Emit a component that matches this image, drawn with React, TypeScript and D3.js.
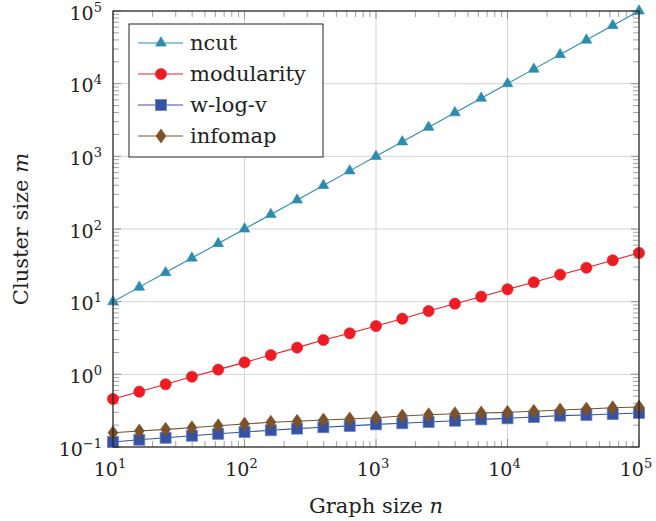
import React from "react";
import * as d3 from "d3";

const graphSizes = [10, 15.85, 25.12, 39.81, 63.1, 100, 158.5, 251.2, 398.1, 631, 1000, 1585, 2512, 3981, 6310, 10000, 15849, 25119, 39811, 63096, 100000];
const ncut = [10, 15.85, 25.12, 39.81, 63.1, 100, 158.5, 251.2, 398.1, 631, 1000, 1585, 2512, 3981, 6310, 10000, 15849, 25119, 39811, 63096, 100000];
const modularity = [0.458, 0.577, 0.73, 0.927, 1.16, 1.46, 1.84, 2.33, 2.97, 3.67, 4.62, 5.83, 7.44, 9.37, 11.7, 14.8, 18.5, 23.5, 29.3, 37.1, 46.8];
const wlogv = [0.117, 0.126, 0.134, 0.143, 0.152, 0.161, 0.17, 0.179, 0.187, 0.195, 0.205, 0.212, 0.221, 0.23, 0.24, 0.248, 0.259, 0.27, 0.276, 0.284, 0.294];
const infomap = [0.157, 0.166, 0.175, 0.184, 0.196, 0.207, 0.219, 0.226, 0.235, 0.243, 0.253, 0.267, 0.278, 0.287, 0.294, 0.3, 0.31, 0.323, 0.333, 0.347, 0.355];

const seriesNames = ["ncut", "modularity", "w-log-v", "infomap"];
const seriesColors = ["#2b8cae", "#ed1c24", "#3652a3", "#7b522a"];
const seriesMarkers = ["triangle", "circle", "square", "diamond"];
const xTickExps = [1, 2, 3, 4, 5];
const yTickExps = [-1, 0, 1, 2, 3, 4, 5];

const FONT = "DejaVu Serif";

function Marker({ type, x, y, color }: { type: string; x: number; y: number; color: string }) {
  if (type === "circle") return <circle cx={x} cy={y} r={5.6} fill={color} stroke={color} strokeWidth={0.6} />;
  if (type === "square") return <rect x={x - 5.5} y={y - 5.5} width={11} height={11} fill={color} stroke="#6d83c0" strokeWidth={0.8} />;
  if (type === "diamond") {
    const p = `M${x},${y - 7}L${x + 5},${y}L${x},${y + 7}L${x - 5},${y}Z`;
    return <path d={p} fill={color} stroke={color} strokeWidth={0.6} />;
  }
  const r = 6.2;
  const p = `M${x},${y - r}L${x + r * 0.866},${y + r * 0.5}L${x - r * 0.866},${y + r * 0.5}Z`;
  return <path d={p} fill={color} stroke={color} strokeWidth={0.6} />;
}

export default function App() {
  const W = 656, H = 521;
  const left = 113, right = 639, top = 11, bottom = 447;
  const x = d3.scaleLog().domain([10, 1e5]).range([left, right]);
  const y = d3.scaleLog().domain([0.1, 1e5]).range([bottom, top]);
  const seriesData = [ncut, modularity, wlogv, infomap];
  const line = d3.line<[number, number]>().x((d) => x(d[0])).y((d) => y(d[1]));

  const minorX: number[] = [];
  for (let e = 1; e < 5; e++) for (let k = 2; k <= 9; k++) minorX.push(k * Math.pow(10, e));
  const minorY: number[] = [];
  for (let e = -1; e < 5; e++) for (let k = 2; k <= 9; k++) minorY.push(k * Math.pow(10, e));

  const tickColor = "#8a8a8a";
  const majorLen = 8, minorLen = 6;

  const legendRows = [43, 74, 105, 136];

  return (
    <svg width={W} height={H} style={{ position: "absolute", left: 0, top: 0, background: "#fff" }} fontFamily={FONT}>
      {/* grid */}
      {xTickExps.map((e) => (
        <line key={"gx" + e} x1={x(Math.pow(10, e))} x2={x(Math.pow(10, e))} y1={top} y2={bottom} stroke="#d4d4d4" strokeWidth={1} />
      ))}
      {yTickExps.map((e) => (
        <line key={"gy" + e} x1={left} x2={right} y1={y(Math.pow(10, e))} y2={y(Math.pow(10, e))} stroke="#d4d4d4" strokeWidth={1} />
      ))}
      {/* minor ticks */}
      {minorX.map((v, i) => (
        <g key={"mx" + i} stroke={tickColor} strokeWidth={0.8}>
          <line x1={x(v)} x2={x(v)} y1={bottom} y2={bottom - minorLen} />
          <line x1={x(v)} x2={x(v)} y1={top} y2={top + minorLen} />
        </g>
      ))}
      {minorY.map((v, i) => (
        <g key={"my" + i} stroke={tickColor} strokeWidth={0.8}>
          <line x1={left} x2={left + minorLen} y1={y(v)} y2={y(v)} />
          <line x1={right} x2={right - minorLen} y1={y(v)} y2={y(v)} />
        </g>
      ))}
      {/* major ticks */}
      {xTickExps.map((e) => (
        <g key={"Mx" + e} stroke={tickColor} strokeWidth={0.9}>
          <line x1={x(Math.pow(10, e))} x2={x(Math.pow(10, e))} y1={bottom} y2={bottom - majorLen} />
          <line x1={x(Math.pow(10, e))} x2={x(Math.pow(10, e))} y1={top} y2={top + majorLen} />
        </g>
      ))}
      {yTickExps.map((e) => (
        <g key={"My" + e} stroke={tickColor} strokeWidth={0.9}>
          <line x1={left} x2={left + majorLen} y1={y(Math.pow(10, e))} y2={y(Math.pow(10, e))} />
          <line x1={right} x2={right - majorLen} y1={y(Math.pow(10, e))} y2={y(Math.pow(10, e))} />
        </g>
      ))}
      {/* series */}
      {seriesData.map((vals, si) => {
        const pts: [number, number][] = graphSizes.map((g, i) => [g, vals[i]]);
        return (
          <g key={"s" + si}>
            <path d={line(pts) || ""} fill="none" stroke={seriesColors[si]} strokeWidth={1.1} />
            {pts.map((p, i) => (
              <Marker key={i} type={seriesMarkers[si]} x={x(p[0])} y={y(p[1])} color={seriesColors[si]} />
            ))}
          </g>
        );
      })}
      {/* frame */}
      <rect x={left} y={top} width={right - left} height={bottom - top} fill="none" stroke="#222" strokeWidth={1.2} />
      {/* tick labels */}
      {xTickExps.map((e) => (
        <text key={"lx" + e} x={x(Math.pow(10, e)) - 3} y={476} fontSize={19} textAnchor="middle" fill="#222">
          10<tspan dy={-8} fontSize={13}>{e}</tspan>
        </text>
      ))}
      {yTickExps.map((e) => (
        <text key={"ly" + e} x={102} y={y(Math.pow(10, e)) + 8.5} fontSize={19} textAnchor="end" fill="#222">
          10<tspan dy={-8} fontSize={13}>{e < 0 ? "\u2212" + Math.abs(e) : e}</tspan>
        </text>
      ))}
      {/* axis titles */}
      <text x={376} y={513} fontSize={21} textAnchor="middle" fill="#222">
        Graph size <tspan fontStyle="italic">n</tspan>
      </text>
      <text transform={`translate(28,${(top + bottom) / 2}) rotate(-90)`} fontSize={21} textAnchor="middle" fill="#222">
        Cluster size <tspan fontStyle="italic">m</tspan>
      </text>
      {/* legend */}
      <rect x={129} y={24} width={194} height={133} fill="#fff" stroke="#222" strokeWidth={1} />
      {seriesNames.map((name, i) => (
        <g key={"lg" + i}>
          <line x1={138} x2={183} y1={legendRows[i]} y2={legendRows[i]} stroke={seriesColors[i]} strokeWidth={1.1} />
          <Marker type={seriesMarkers[i]} x={161} y={legendRows[i]} color={seriesColors[i]} />
          <text x={190} y={legendRows[i] + 7} fontSize={21} fill="#222">{name}</text>
        </g>
      ))}
    </svg>
  );
}
